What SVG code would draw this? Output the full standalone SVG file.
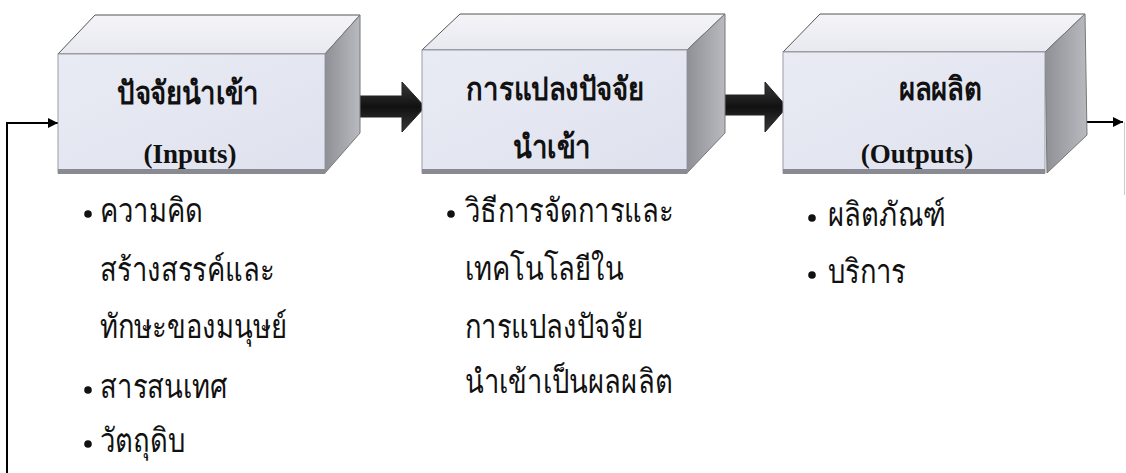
<svg xmlns="http://www.w3.org/2000/svg" width="1126" height="473" viewBox="0 0 1126 473">
<defs>
<linearGradient id="gFront" x1="0" y1="0" x2="1" y2="1">
<stop offset="0" stop-color="#e9ebf4"/>
<stop offset="1" stop-color="#dfe2ee"/>
</linearGradient>
<linearGradient id="gTop" x1="0" y1="0" x2="0" y2="1">
<stop offset="0" stop-color="#f4f4f8"/>
<stop offset="1" stop-color="#e8e9f0"/>
</linearGradient>
<linearGradient id="gSide" x1="0" y1="0" x2="1" y2="0">
<stop offset="0" stop-color="#8f9096"/>
<stop offset="1" stop-color="#b9babf"/>
</linearGradient>
<linearGradient id="gArrow" x1="0" y1="0" x2="0" y2="1">
<stop offset="0" stop-color="#3a3a3a"/>
<stop offset="0.5" stop-color="#111"/>
<stop offset="1" stop-color="#3a3a3a"/>
</linearGradient>
<marker id="ah" viewBox="0 0 10 10" refX="10" refY="5" markerWidth="10" markerHeight="10" markerUnits="userSpaceOnUse" orient="auto">
<path d="M0,0 L10,5 L0,10 z" fill="#000"/>
</marker>
</defs>
<style>
.front{fill:url(#gFront);stroke:#9a9ca6;stroke-width:1}
.top{fill:url(#gTop);stroke:#555;stroke-width:1}
.side{fill:url(#gSide);stroke:#777;stroke-width:1}
.shadow{fill:#8a8b92}
.title{font-family:"Liberation Serif","Noto Sans",serif;font-weight:bold;font-size:27px;fill:#111;text-anchor:middle}
.thai{font-size:32px}
.item{font-family:"Noto Sans","DejaVu Sans",sans-serif;font-size:33px;fill:#111}
.dot{fill:#111}
.line{fill:none;stroke:#000;stroke-width:2}
.blk{fill:url(#gArrow);stroke:#222;stroke-width:1}
</style>
<rect width="1126" height="473" fill="#fff"/>

<g id="connectors">
<polyline class="line" points="7,473 7,123 58,123" marker-end="url(#ah)"/>
<line class="line" x1="1073" y1="122" x2="1123" y2="122" marker-end="url(#ah)"/>
<line x1="1124.5" y1="122" x2="1124.5" y2="195" stroke="#ccc" stroke-width="1"/>
<polygon class="blk" points="357,96 402,96 402,82 425,107 402,132 402,117 357,117"/>
<polygon class="blk" points="722,95 765,95 765,82 787,107 765,132 765,115 722,115"/>
</g>

<g id="node-inputs">
<polygon class="top" points="58,54 95,15 360,15 325,54"/>
<polygon class="side" points="325,54 360,15 360,133 325,173"/>
<rect class="front" x="58" y="54" width="267" height="119"/>
<rect class="shadow" x="58" y="169" width="267" height="5"/>
<text class="title thai" transform="translate(188,104) scale(0.86,1)">ปัจจัยนำเข้า</text>
<text class="title" x="190" y="163">(Inputs)</text>
</g>

<g id="node-transform">
<polygon class="top" points="422,50 460,14 725,14 687,50"/>
<polygon class="side" points="687,50 725,14 725,133 687,173"/>
<rect class="front" x="422" y="50" width="265" height="123"/>
<rect class="shadow" x="422" y="169" width="265" height="5"/>
<text class="title thai" transform="translate(555,100) scale(0.86,1)">การแปลงปัจจัย</text>
<text class="title thai" transform="translate(552,158) scale(0.86,1)">นำเข้า</text>
</g>

<g id="node-outputs">
<polygon class="top" points="783,52 820,14 1085,14 1045,52"/>
<polygon class="side" points="1045,52 1085,14 1087,135 1047,173"/>
<rect class="front" x="783" y="52" width="262" height="121"/>
<rect class="shadow" x="783" y="169" width="262" height="5"/>
<text class="title thai" transform="translate(940,100) scale(0.86,1)">ผลผลิต</text>
<text class="title" x="917" y="163">(Outputs)</text>
</g>

<g id="list-inputs">
<circle class="dot" cx="88" cy="214" r="3.8"/>
<text class="item" transform="translate(100,222) scale(0.83,1)">ความคิด</text>
<text class="item" transform="translate(100,281) scale(0.83,1)">สร้างสรรค์และ</text>
<text class="item" transform="translate(100,338) scale(0.83,1)">ทักษะของมนุษย์</text>
<circle class="dot" cx="88" cy="390" r="3.8"/>
<text class="item" transform="translate(100,398) scale(0.83,1)">สารสนเทศ</text>
<circle class="dot" cx="88" cy="444" r="3.8"/>
<text class="item" transform="translate(100,452) scale(0.83,1)">วัตถุดิบ</text>
</g>

<g id="list-transform">
<circle class="dot" cx="451" cy="214" r="3.8"/>
<text class="item" transform="translate(465,222) scale(0.83,1)">วิธีการจัดการและ</text>
<text class="item" transform="translate(465,280) scale(0.83,1)">เทคโนโลยีใน</text>
<text class="item" transform="translate(465,338) scale(0.83,1)">การแปลงปัจจัย</text>
<text class="item" transform="translate(465,393) scale(0.83,1)">นำเข้าเป็นผลผลิต</text>
</g>

<g id="list-outputs">
<circle class="dot" cx="812" cy="218" r="3.8"/>
<text class="item" transform="translate(828,226) scale(0.83,1)">ผลิตภัณฑ์</text>
<circle class="dot" cx="812" cy="275" r="3.8"/>
<text class="item" transform="translate(828,283) scale(0.83,1)">บริการ</text>
</g>
</svg>
